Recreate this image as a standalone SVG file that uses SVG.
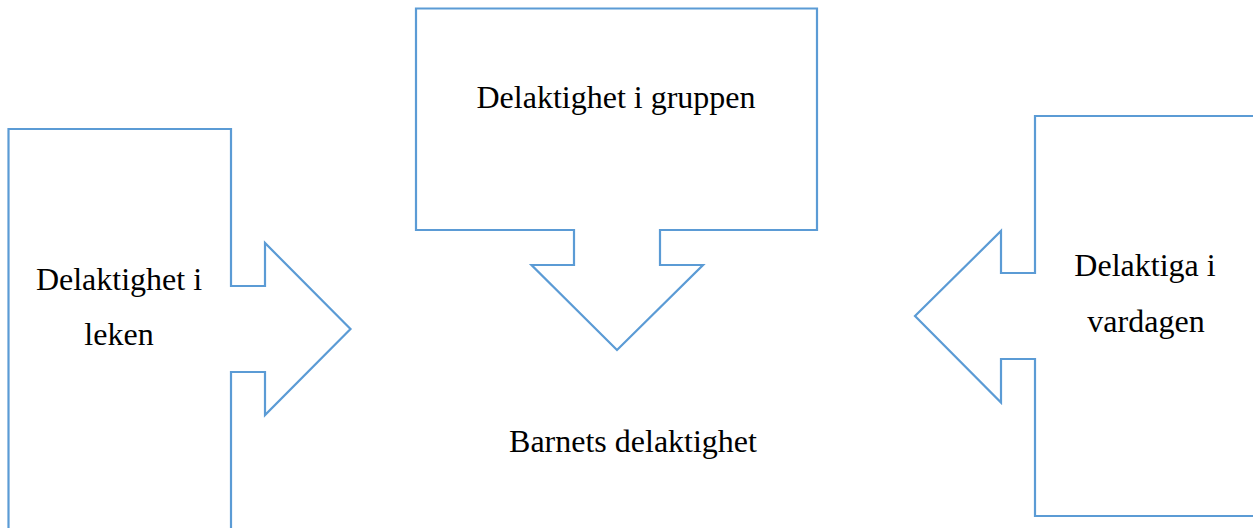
<svg xmlns="http://www.w3.org/2000/svg" width="1253" height="528" viewBox="0 0 1253 528">
<style>
.shape{fill:#ffffff;stroke:#5B9BD5;stroke-width:2.2;stroke-linejoin:miter}
.lbl{font-family:"Liberation Serif","Times New Roman",serif;font-size:32px;fill:#000000;text-anchor:middle}
</style>
<rect width="1253" height="528" fill="#ffffff"/>
<g id="node-leken">
<path class="shape" d="M8.5,540 L8.5,129 L231,129 L231,286 L265,286 L265,243 L350.5,329 L265,415 L265,372 L231,372 L231,540"/>
<text class="lbl" x="119" y="290">Delaktighet i</text>
<text class="lbl" x="119" y="345">leken</text>
</g>
<g id="node-gruppen">
<path class="shape" d="M416,8.5 L817,8.5 L817,230 L660,230 L660,265 L703,265 L617,350 L531.5,265 L574,265 L574,230 L416,230 Z"/>
<text class="lbl" x="616" y="108">Delaktighet i gruppen</text>
</g>
<g id="node-vardagen">
<path class="shape" d="M1265,116 L1035,116 L1035,273 L1001,273 L1001,231 L915,316 L1001,402.5 L1001,359 L1035,359 L1035,516 L1265,516"/>
<text class="lbl" x="1145" y="276">Delaktiga i</text>
<text class="lbl" x="1146" y="332">vardagen</text>
</g>
<g id="node-center">
<text class="lbl" x="633" y="452">Barnets delaktighet</text>
</g>
<g id="connectors"></g>
</svg>
